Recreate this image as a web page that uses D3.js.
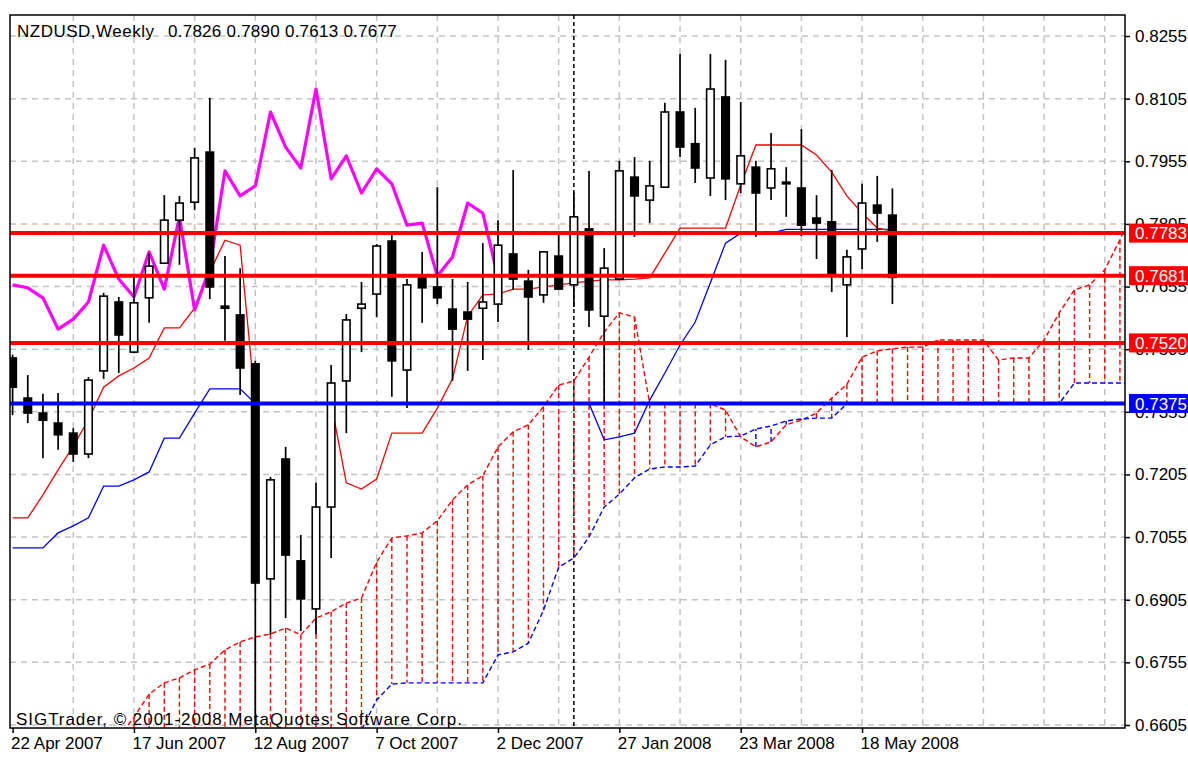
<!DOCTYPE html>
<html><head><meta charset="utf-8">
<script src="https://cdn.jsdelivr.net/npm/d3@7"></script>
<style>
body{margin:0;background:#fff}
svg text{font-family:"Liberation Sans",Arial,sans-serif;font-size:17px}
</style>
</head><body>
<svg id="chart" width="1188" height="757"></svg>
<script>
// ---------------- data ----------------
const symbolTitle = "NZDUSD,Weekly";
const lastQuote = ["0.7826", "0.7890", "0.7613", "0.7677"];
const copyright = "SIGTrader, \u00A9 2001-2008 MetaQuotes Software Corp.";

const dateLabels = ["22 Apr 2007", "17 Jun 2007", "12 Aug 2007", "7 Oct 2007",
  "2 Dec 2007", "27 Jan 2008", "23 Mar 2008", "18 May 2008"];
const dateLabelBars = [0, 8, 16, 24, 32, 40, 48, 56];
const gridBars = [4, 8, 12, 16, 20, 24, 28, 32, 36, 40, 44, 48, 52, 56, 60, 64, 68, 72];
const priceTicks = [0.8255, 0.8105, 0.7955, 0.7805, 0.7655, 0.7505, 0.7355,
  0.7205, 0.7055, 0.6905, 0.6755, 0.6605];
const separatorBar = 37;

// weekly candles, bar 0 = week of 22 Apr 2007
const open = [0.7484, 0.7388, 0.7352, 0.7328, 0.7304, 0.7254, 0.7453, 0.7618, 0.7498, 0.7628,
  0.7711, 0.7814, 0.7857, 0.7977, 0.7608, 0.7587, 0.7470, 0.6955, 0.7242, 0.6998,
  0.6883, 0.7127, 0.7429, 0.7603, 0.7637, 0.7764, 0.7455, 0.7683, 0.7654, 0.7601,
  0.7594, 0.7603, 0.7613, 0.7733, 0.7668, 0.7635, 0.7728, 0.7659, 0.7793, 0.7584,
  0.7673, 0.7917, 0.7862, 0.7893, 0.8073, 0.7997, 0.7915, 0.8109, 0.7901, 0.7941,
  0.7891, 0.7905, 0.7891, 0.7819, 0.7810, 0.7659, 0.7745, 0.7850, 0.7826];
const high = [0.7492, 0.7443, 0.7398, 0.7400, 0.7316, 0.7438, 0.7640, 0.7630, 0.7678, 0.7735,
  0.7874, 0.7872, 0.7987, 0.8107, 0.7728, 0.7699, 0.7477, 0.7199, 0.7271, 0.7060,
  0.7185, 0.7467, 0.7589, 0.7666, 0.7757, 0.7783, 0.7673, 0.7738, 0.7893, 0.7673,
  0.7666, 0.7759, 0.7814, 0.7934, 0.7695, 0.7740, 0.7786, 0.7881, 0.7932, 0.7747,
  0.7956, 0.7965, 0.7956, 0.8095, 0.8212, 0.8083, 0.8212, 0.8198, 0.8097, 0.7956,
  0.8023, 0.7941, 0.8032, 0.7874, 0.7934, 0.7743, 0.7901, 0.7920, 0.7890];
const low = [0.7347, 0.7328, 0.7244, 0.7264, 0.7235, 0.7244, 0.7434, 0.7448, 0.7495, 0.7568,
  0.7710, 0.7707, 0.7838, 0.7625, 0.7525, 0.7395, 0.6600, 0.6821, 0.6861, 0.6830,
  0.6823, 0.7005, 0.7304, 0.7498, 0.7582, 0.7391, 0.7364, 0.7568, 0.7613, 0.7429,
  0.7453, 0.7479, 0.7570, 0.7647, 0.7503, 0.7616, 0.7647, 0.7606, 0.7558, 0.7376,
  0.7671, 0.7774, 0.7807, 0.7891, 0.7965, 0.7903, 0.7872, 0.7862, 0.7879, 0.7774,
  0.7862, 0.7822, 0.7776, 0.7721, 0.7642, 0.7534, 0.7697, 0.7762, 0.7613];
const close = [0.7414, 0.7352, 0.7335, 0.7300, 0.7254, 0.7431, 0.7632, 0.7539, 0.7616, 0.7704,
  0.7814, 0.7855, 0.7963, 0.7654, 0.7603, 0.7460, 0.6945, 0.7192, 0.7012, 0.6907,
  0.7127, 0.7424, 0.7575, 0.7613, 0.7752, 0.7477, 0.7659, 0.7652, 0.7628, 0.7553,
  0.7577, 0.7618, 0.7754, 0.7673, 0.7630, 0.7738, 0.7649, 0.7822, 0.7599, 0.7699,
  0.7932, 0.7872, 0.7896, 0.8073, 0.7989, 0.7939, 0.8128, 0.7913, 0.7968, 0.7879,
  0.7937, 0.7901, 0.7802, 0.7807, 0.7680, 0.7726, 0.7855, 0.7831, 0.7677];

// Ichimoku lines
const tenkan = [0.7101, 0.7101, 0.7156, 0.7216, 0.7273, 0.7336, 0.7414, 0.7441, 0.7460, 0.7484,
  0.7556, 0.7556, 0.7603, 0.7690, 0.7766, 0.7754, 0.7375, 0.7375, 0.7375, 0.7375,
  0.7375, 0.7375, 0.7185, 0.7170, 0.7194, 0.7304, 0.7304, 0.7304, 0.7364, 0.7434,
  0.7584, 0.7635, 0.7637, 0.7649, 0.7649, 0.7654, 0.7659, 0.7664, 0.7668, 0.7671,
  0.7671, 0.7673, 0.7676, 0.7735, 0.7795, 0.7795, 0.7795, 0.7795, 0.7898, 0.7994,
  0.7994, 0.7994, 0.7994, 0.7970, 0.7929, 0.7872, 0.7831, 0.7795, 0.7788];
const kijun = [0.7029, 0.7029, 0.7029, 0.7065, 0.7082, 0.7101, 0.7177, 0.7177, 0.7192, 0.7211,
  0.7292, 0.7292, 0.7352, 0.7410, 0.7410, 0.7410, 0.7375, 0.7375, 0.7375, 0.7375,
  0.7375, 0.7375, 0.7375, 0.7375, 0.7375, 0.7375, 0.7375, 0.7375, 0.7375, 0.7375,
  0.7375, 0.7375, 0.7375, 0.7375, 0.7375, 0.7375, 0.7375, 0.7375, 0.7375, 0.7288,
  0.7295, 0.7304, 0.7383, 0.7448, 0.7515, 0.7570, 0.7664, 0.7759, 0.7783, 0.7783,
  0.7783, 0.7792, 0.7792, 0.7792, 0.7792, 0.7792, 0.7792, 0.7792, 0.7792];
const chikou = [0.7659, 0.7652, 0.7628, 0.7553, 0.7577, 0.7618, 0.7754, 0.7673, 0.7630, 0.7738,
  0.7649, 0.7822, 0.7599, 0.7699, 0.7932, 0.7872, 0.7896, 0.8073, 0.7989, 0.7939,
  0.8128, 0.7913, 0.7968, 0.7879, 0.7937, 0.7901, 0.7802, 0.7807, 0.7680, 0.7726,
  0.7855, 0.7831, 0.7677];
const spanAStart = 7;
const spanA = [0.6574, 0.6624, 0.6679, 0.6706, 0.6718, 0.6737, 0.6751, 0.6785, 0.6804, 0.6816,
  0.6823, 0.6837, 0.6821, 0.6861, 0.6876, 0.6897, 0.6909, 0.6995, 0.7053, 0.7058,
  0.7065, 0.7094, 0.7144, 0.7180, 0.7202, 0.7271, 0.7307, 0.7324, 0.7367, 0.7419,
  0.7429, 0.7486, 0.7546, 0.7592, 0.7582, 0.7375, 0.7375, 0.7375, 0.7375, 0.7375,
  0.7359, 0.7295, 0.7271, 0.7283, 0.7324, 0.7335, 0.7352, 0.7388, 0.7421, 0.7486,
  0.7501, 0.7506, 0.7510, 0.7510, 0.7527, 0.7527, 0.7527, 0.7527, 0.7479, 0.7484,
  0.7484, 0.7527, 0.7592, 0.7647, 0.7659, 0.7695, 0.7767, 0.7850];
const spanBStart = 22;
const spanB = [0.6527, 0.6593, 0.6665, 0.6703, 0.6706, 0.6706, 0.6706, 0.6706, 0.6706, 0.6706,
  0.6773, 0.6780, 0.6801, 0.6880, 0.6983, 0.7005, 0.7055, 0.7127, 0.7158, 0.7197,
  0.7218, 0.7223, 0.7223, 0.7225, 0.7276, 0.7295, 0.7297, 0.7314, 0.7321, 0.7333,
  0.7338, 0.7340, 0.7340, 0.7374, 0.7375, 0.7375, 0.7375, 0.7375, 0.7375, 0.7375,
  0.7375, 0.7375, 0.7375, 0.7375, 0.7375, 0.7375, 0.7375, 0.7375, 0.7424, 0.7424,
  0.7424, 0.7424, 0.7424];

const levels = [0.7783, 0.7681, 0.7520, 0.7375];
const levelColors = ["#ff0000", "#ff0000", "#ff0000", "#0000ff"];

// ---------------- drawing ----------------
const plot = {left: 10, top: 15, right: 1125, bottom: 728};
const svg = d3.select("#chart");
const x = d3.scaleLinear().domain([0, 58]).range([12.6, 892.4]);
const y = d3.scaleLinear().domain([0.6605, 0.8255]).range([725, 36]);

svg.append("defs").append("clipPath").attr("id", "clip")
  .append("rect").attr("x", plot.left).attr("y", plot.top)
  .attr("width", plot.right - plot.left).attr("height", plot.bottom - plot.top);
const g = svg.append("g").attr("clip-path", "url(#clip)");

// grid
const gridColor = "#c3c3c3";
g.selectAll(".hgrid").data(priceTicks).enter().append("line")
  .attr("x1", plot.left).attr("x2", plot.right)
  .attr("y1", d => y(d)).attr("y2", d => y(d))
  .attr("stroke", gridColor).attr("stroke-width", 1.5).attr("stroke-dasharray", "6,5");
g.selectAll(".vgrid").data(gridBars).enter().append("line")
  .attr("x1", d => x(d)).attr("x2", d => x(d))
  .attr("y1", plot.top).attr("y2", plot.bottom)
  .attr("stroke", gridColor).attr("stroke-width", 1.5).attr("stroke-dasharray", "6,5");

// period separator
g.append("line").attr("x1", x(separatorBar)).attr("x2", x(separatorBar))
  .attr("y1", plot.top).attr("y2", plot.bottom)
  .attr("stroke", "#000").attr("stroke-width", 1.5).attr("stroke-dasharray", "4,3");

// cloud hatch
const cloud = [];
for (let k = 0; k < spanA.length; k++) {
  const i = k + spanAStart;
  const bIdx = i - spanBStart;
  const b = (bIdx >= 0 && bIdx < spanB.length) ? spanB[bIdx] : null;
  cloud.push({i, a: spanA[k], b});
}
g.selectAll(".hatch").data(cloud.filter(d => d.i >= 8)).enter().append("line")
  .attr("x1", d => x(d.i)).attr("x2", d => x(d.i))
  .attr("y1", d => y(d.a))
  .attr("y2", d => d.b === null ? plot.bottom + 2 : y(d.b))
  .attr("stroke", d => (d.b !== null && d.b > d.a) ? "#0000ff" : "#ff0000")
  .attr("stroke-width", 1.4).attr("stroke-dasharray", "5,3");

const lineGen = d3.line().x(d => x(d[0])).y(d => y(d[1]));
const seriesPts = (arr, start) => arr.map((v, k) => [k + start, v]);

g.append("path").attr("d", lineGen(seriesPts(spanA, spanAStart)))
  .attr("fill", "none").attr("stroke", "#ff0000").attr("stroke-width", 1.4).attr("stroke-dasharray", "5,3");
g.append("path").attr("d", lineGen(seriesPts(spanB, spanBStart)))
  .attr("fill", "none").attr("stroke", "#0000ff").attr("stroke-width", 1.4).attr("stroke-dasharray", "5,3");

g.append("path").attr("d", lineGen(seriesPts(kijun, 0)))
  .attr("fill", "none").attr("stroke", "#0000ff").attr("stroke-width", 1.3);
g.append("path").attr("d", lineGen(seriesPts(tenkan, 0)))
  .attr("fill", "none").attr("stroke", "#ff0000").attr("stroke-width", 1.3);
g.append("path").attr("d", lineGen(seriesPts(chikou, 0)))
  .attr("fill", "none").attr("stroke", "#ff00ff").attr("stroke-width", 3.2).attr("stroke-linejoin", "round");

// candles
const candles = open.map((o, i) => ({i, o, h: high[i], l: low[i], c: close[i]}));
const cg = g.selectAll(".candle").data(candles).enter().append("g");
cg.append("line")
  .attr("x1", d => x(d.i)).attr("x2", d => x(d.i))
  .attr("y1", d => y(d.h)).attr("y2", d => y(d.l))
  .attr("stroke", "#000").attr("stroke-width", 1.7);
cg.append("rect")
  .attr("x", d => x(d.i) - 3.75).attr("width", 7.5)
  .attr("y", d => y(Math.max(d.o, d.c)))
  .attr("height", d => Math.max(0.5, Math.abs(y(d.o) - y(d.c))))
  .attr("fill", d => d.c >= d.o ? "#fff" : "#000")
  .attr("stroke", "#000").attr("stroke-width", 1.6);

// horizontal level lines
g.selectAll(".level").data(levels).enter().append("line")
  .attr("x1", plot.left).attr("x2", plot.right)
  .attr("y1", d => y(d)).attr("y2", d => y(d))
  .attr("stroke", (d, i) => levelColors[i]).attr("stroke-width", 4);

// texts inside plot
svg.append("text").attr("x", 17).attr("y", 37).attr("letter-spacing", 0.5).text(symbolTitle);
svg.append("text").attr("x", 168).attr("y", 37).attr("letter-spacing", 0.25).text(lastQuote.join(" "));
svg.append("text").attr("x", 16).attr("y", 725).attr("letter-spacing", 0.95).text(copyright);

// border
svg.append("rect").attr("x", plot.left).attr("y", plot.top)
  .attr("width", plot.right - plot.left).attr("height", plot.bottom - plot.top)
  .attr("fill", "none").attr("stroke", "#000").attr("stroke-width", 1.5);

// right axis
const yAxis = d3.axisRight(y).tickValues(priceTicks).tickFormat(d3.format(".4f"))
  .tickSize(5).tickPadding(5);
const ya = svg.append("g").attr("transform", `translate(${plot.right},0)`).call(yAxis);
ya.select(".domain").remove();
ya.selectAll("line").attr("stroke", "#000").attr("stroke-width", 1.5);
ya.selectAll("text").attr("font-size", 17).attr("fill", "#000")
  .style("font-family", '"Liberation Sans",Arial,sans-serif');

// bottom axis
const xAxis = d3.axisBottom(x).tickValues(dateLabelBars)
  .tickFormat((d, i) => dateLabels[i]).tickSize(5).tickPadding(4);
const xa = svg.append("g").attr("transform", `translate(0,${plot.bottom})`).call(xAxis);
xa.select(".domain").remove();
xa.selectAll("line").attr("stroke", "#000").attr("stroke-width", 1.5);
xa.selectAll("text").attr("text-anchor", "start").attr("dx", -2).attr("font-size", 17)
  .attr("fill", "#000").style("font-family", '"Liberation Sans",Arial,sans-serif');

// level labels on axis (drawn over the price scale as in the reference)
const lg = svg.selectAll(".lvlLabel").data(levels).enter().append("g");
lg.append("rect").attr("x", 1129).attr("width", 59)
  .attr("y", d => y(d) - 9.5).attr("height", 19)
  .attr("fill", (d, i) => levelColors[i]);
lg.append("text").attr("x", 1135).attr("y", d => y(d)).attr("dy", "0.36em")
  .attr("fill", "#fff").text(d => d3.format(".4f")(d));
</script>
</body></html>
